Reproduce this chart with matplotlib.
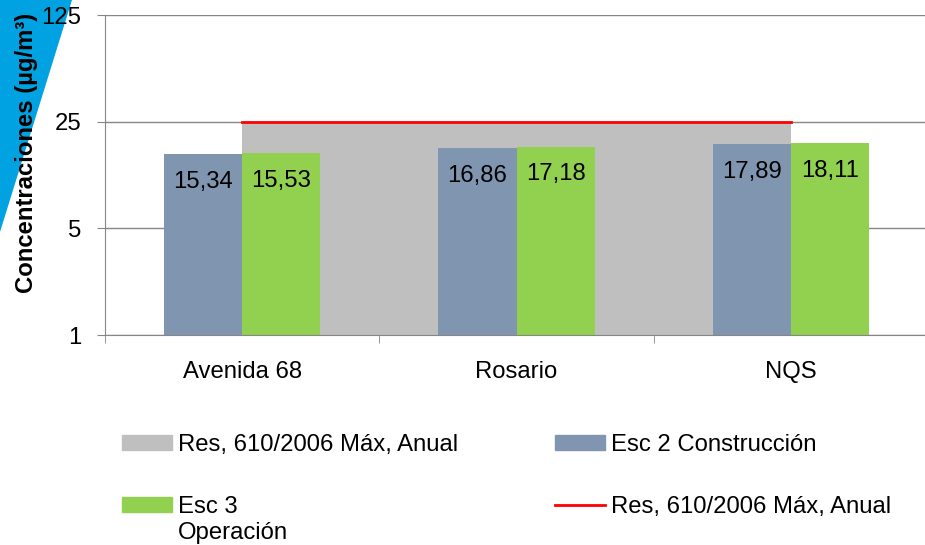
import matplotlib
matplotlib.use("Agg")
import matplotlib.pyplot as plt
from matplotlib.patches import Patch, Polygon
from matplotlib.lines import Line2D
from matplotlib.ticker import FixedLocator, NullFormatter
import numpy as np

plt.rcParams['font.family'] = ['Liberation Sans', 'DejaVu Sans']

# data
stations = ['Avenida 68', 'Rosario', 'NQS']
esc2 = [15.34, 16.86, 17.89]
esc3 = [15.53, 17.18, 18.11]
norm = [25, 25, 25]
yticks = [1, 5, 25, 125]

c_gray = '#BFBFBF'
c_esc2 = '#8096B0'
c_esc3 = '#92D050'
c_red = '#FF0000'
c_axis = '#868686'
fs = 17.2

fig = plt.figure(figsize=(9.25, 5.45), dpi=100)
ax = fig.add_axes([105 / 925, 210 / 545, 823 / 925, 320 / 545])

# blue decoration top-left
fig.patches.append(Polygon([(0, 1), (72 / 925, 1), (0, 1 - 232 / 545)],
                           closed=True, transform=fig.transFigure,
                           facecolor='#00A2E1', edgecolor='none', zorder=-1))

x = np.arange(len(stations))
w = 0.285

ax.fill_between(x, 1, norm, color=c_gray, lw=0, zorder=1)
ax.bar(x - w / 2, esc2, w, color=c_esc2, zorder=2)
ax.bar(x + w / 2, esc3, w, color=c_esc3, zorder=2)
ax.plot(x, norm, color=c_red, lw=2, zorder=3)

for xs, vals in ((x - w / 2, esc2), (x + w / 2, esc3)):
    for xi, v in zip(xs, vals):
        ax.annotate(f"{v:.2f}".replace('.', ','), (xi, v), xytext=(0, -20),
                    textcoords='offset points', ha='center', va='center',
                    fontsize=fs, zorder=4)

ax.set_yscale('log')
ax.set_ylim(1, 125)
ax.set_xlim(-0.5, 2.5)
ax.yaxis.set_major_locator(FixedLocator(yticks))
ax.yaxis.set_minor_locator(FixedLocator([]))
ax.set_yticklabels([str(t) for t in yticks])
ax.set_xticks(x)
ax.set_xticklabels(stations)
ax.xaxis.set_minor_locator(FixedLocator([-0.5, 0.5, 1.5, 2.5]))
ax.xaxis.set_minor_formatter(NullFormatter())
ax.tick_params(axis='x', which='major', length=0, pad=19, labelsize=fs)
ax.tick_params(axis='x', which='minor', length=6, color=c_axis)
ax.tick_params(axis='y', length=6, color=c_axis, pad=11, labelsize=fs)

ax.set_axisbelow(True)
ax.grid(axis='y', color=c_axis, lw=1, zorder=0)
for s in ('top', 'right'):
    ax.spines[s].set_visible(False)
for s in ('left', 'bottom'):
    ax.spines[s].set_color(c_axis)

ax.set_ylabel('Concentraciones (µg/m³)', fontsize=fs, fontweight='bold')
ax.yaxis.set_label_coords(-0.082, 0.57)

handles = [Patch(color=c_gray), Patch(color=c_esc3),
           Patch(color=c_esc2), Line2D([], [], color=c_red, lw=2)]
labels = ['Res, 610/2006 Máx, Anual', 'Esc 3',
          'Esc 2 Construcción', 'Res, 610/2006 Máx, Anual']
leg = fig.legend(handles, labels, ncol=2, loc='upper left',
                 bbox_to_anchor=(122 / 925, 1 - 434 / 545), frameon=False,
                 fontsize=fs, handlelength=2.1, handleheight=0.6,
                 handletextpad=0.25, columnspacing=4.05, labelspacing=1.66,
                 borderpad=0, borderaxespad=0)

fig.canvas.draw()
bb = leg.get_texts()[1].get_window_extent()
inv = fig.transFigure.inverted()
x0, y0 = inv.transform((bb.x0, bb.y0))
fig.text(x0, y0 - 4 / 545, 'Operación', fontsize=fs, ha='left', va='top')

fig.savefig('out.png', dpi=100)
